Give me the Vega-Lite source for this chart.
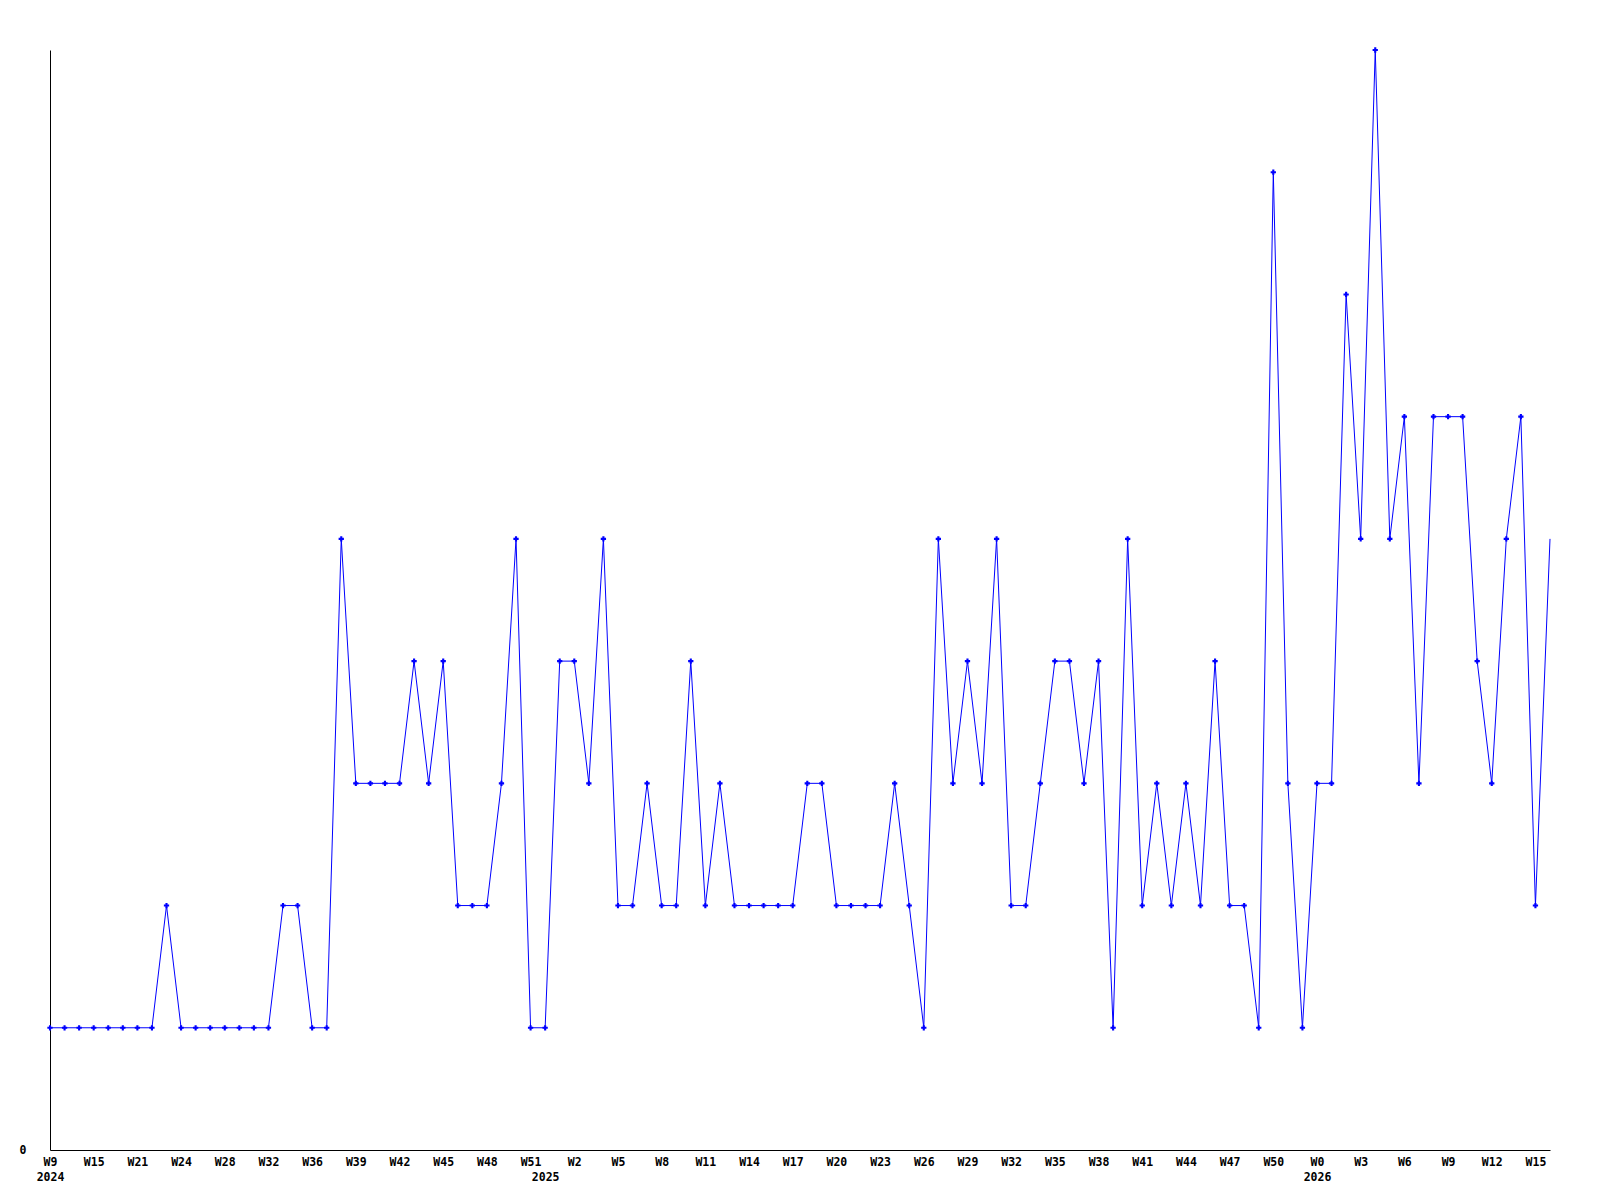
{
  "$schema": "https://vega.github.io/schema/vega-lite/v6.json",
  "width": 1500,
  "height": 1100,
  "autosize": {"type": "none"},
  "padding": {"left": 50, "top": 50, "right": 50, "bottom": 50},
  "background": "white",
  "config": {
    "view": {"stroke": null},
    "axis": {"labelFont": "DejaVu Sans Mono", "labelFontWeight": "bold", "labelFontSize": 11.5, "labelColor": "black", "domainColor": "black", "domainWidth": 1, "grid": false, "ticks": false, "title": null}
  },
  "data": {"values": [
    {"period": "2024-W09", "value": 1}, {"period": "2024-W11", "value": 1}, {"period": "2024-W13", "value": 1}, {"period": "2024-W15", "value": 1},
    {"period": "2024-W17", "value": 1}, {"period": "2024-W19", "value": 1}, {"period": "2024-W21", "value": 1}, {"period": "2024-W22", "value": 1},
    {"period": "2024-W23", "value": 2}, {"period": "2024-W24", "value": 1}, {"period": "2024-W25", "value": 1}, {"period": "2024-W27", "value": 1},
    {"period": "2024-W28", "value": 1}, {"period": "2024-W29", "value": 1}, {"period": "2024-W30", "value": 1}, {"period": "2024-W32", "value": 1},
    {"period": "2024-W33", "value": 2}, {"period": "2024-W35", "value": 2}, {"period": "2024-W36", "value": 1}, {"period": "2024-W37", "value": 1},
    {"period": "2024-W38", "value": 5}, {"period": "2024-W39", "value": 3}, {"period": "2024-W40", "value": 3}, {"period": "2024-W41", "value": 3},
    {"period": "2024-W42", "value": 3}, {"period": "2024-W43", "value": 4}, {"period": "2024-W44", "value": 3}, {"period": "2024-W45", "value": 4},
    {"period": "2024-W46", "value": 2}, {"period": "2024-W47", "value": 2}, {"period": "2024-W48", "value": 2}, {"period": "2024-W49", "value": 3},
    {"period": "2024-W50", "value": 5}, {"period": "2024-W51", "value": 1},
    {"period": "2025-W00", "value": 1}, {"period": "2025-W01", "value": 4}, {"period": "2025-W02", "value": 4}, {"period": "2025-W03", "value": 3},
    {"period": "2025-W04", "value": 5}, {"period": "2025-W05", "value": 2}, {"period": "2025-W06", "value": 2}, {"period": "2025-W07", "value": 3},
    {"period": "2025-W08", "value": 2}, {"period": "2025-W09", "value": 2}, {"period": "2025-W10", "value": 4}, {"period": "2025-W11", "value": 2},
    {"period": "2025-W12", "value": 3}, {"period": "2025-W13", "value": 2}, {"period": "2025-W14", "value": 2}, {"period": "2025-W15", "value": 2},
    {"period": "2025-W16", "value": 2}, {"period": "2025-W17", "value": 2}, {"period": "2025-W18", "value": 3}, {"period": "2025-W19", "value": 3},
    {"period": "2025-W20", "value": 2}, {"period": "2025-W21", "value": 2}, {"period": "2025-W22", "value": 2}, {"period": "2025-W23", "value": 2},
    {"period": "2025-W24", "value": 3}, {"period": "2025-W25", "value": 2}, {"period": "2025-W26", "value": 1}, {"period": "2025-W27", "value": 5},
    {"period": "2025-W28", "value": 3}, {"period": "2025-W29", "value": 4}, {"period": "2025-W30", "value": 3}, {"period": "2025-W31", "value": 5},
    {"period": "2025-W32", "value": 2}, {"period": "2025-W33", "value": 2}, {"period": "2025-W34", "value": 3}, {"period": "2025-W35", "value": 4},
    {"period": "2025-W36", "value": 4}, {"period": "2025-W37", "value": 3}, {"period": "2025-W38", "value": 4}, {"period": "2025-W39", "value": 1},
    {"period": "2025-W40", "value": 5}, {"period": "2025-W41", "value": 2}, {"period": "2025-W42", "value": 3}, {"period": "2025-W43", "value": 2},
    {"period": "2025-W44", "value": 3}, {"period": "2025-W45", "value": 2}, {"period": "2025-W46", "value": 4}, {"period": "2025-W47", "value": 2},
    {"period": "2025-W48", "value": 2}, {"period": "2025-W49", "value": 1}, {"period": "2025-W50", "value": 8}, {"period": "2025-W51", "value": 3},
    {"period": "2025-W52", "value": 1},
    {"period": "2026-W00", "value": 3}, {"period": "2026-W01", "value": 3}, {"period": "2026-W02", "value": 7}, {"period": "2026-W03", "value": 5},
    {"period": "2026-W04", "value": 9}, {"period": "2026-W05", "value": 5}, {"period": "2026-W06", "value": 6}, {"period": "2026-W07", "value": 3},
    {"period": "2026-W08", "value": 6}, {"period": "2026-W09", "value": 6}, {"period": "2026-W10", "value": 6}, {"period": "2026-W11", "value": 4},
    {"period": "2026-W12", "value": 3}, {"period": "2026-W13", "value": 5}, {"period": "2026-W14", "value": 6}, {"period": "2026-W15", "value": 2},
    {"period": "2026-W16", "value": 5}
  ]},
  "encoding": {
    "x": {
      "field": "period", "type": "ordinal", "sort": null,
      "scale": {"type": "point", "padding": 0},
      "axis": {
        "values": ["2024-W09", "2024-W15", "2024-W21", "2024-W24", "2024-W28", "2024-W32", "2024-W36", "2024-W39", "2024-W42", "2024-W45", "2024-W48", "2024-W51", "2025-W00", "2025-W02", "2025-W05", "2025-W08", "2025-W11", "2025-W14", "2025-W17", "2025-W20", "2025-W23", "2025-W26", "2025-W29", "2025-W32", "2025-W35", "2025-W38", "2025-W41", "2025-W44", "2025-W47", "2025-W50", "2026-W00", "2026-W03", "2026-W06", "2026-W09", "2026-W12", "2026-W15"],
        "labelExpr": "datum.value == '2025-W00' ? ['', '2025'] : (datum.value == '2024-W09' || datum.value == '2026-W00') ? ['W' + toNumber(substring(datum.value, 6)), substring(datum.value, 0, 4)] : 'W' + toNumber(substring(datum.value, 6))",
        "labelAngle": 0,
        "labelAlign": "center",
        "labelBaseline": "top",
        "labelPadding": 6,
        "labelLineHeight": 15,
        "labelOverlap": false,
        "labelFlush": false,
        "labelBound": false
      }
    },
    "y": {
      "field": "value", "type": "quantitative",
      "scale": {"domain": [0, 9], "nice": false, "zero": true},
      "axis": {"values": [0], "labelPadding": 24, "labelBaseline": "middle"}
    }
  },
  "layer": [
    {"mark": {"type": "line", "color": "#0000FF", "strokeWidth": 1}},
    {
      "transform": [{"filter": "datum.period != '2026-W16'"}],
      "mark": {"type": "point", "shape": "cross", "filled": true, "color": "#0000FF", "size": 28, "opacity": 1}
    }
  ]
}
